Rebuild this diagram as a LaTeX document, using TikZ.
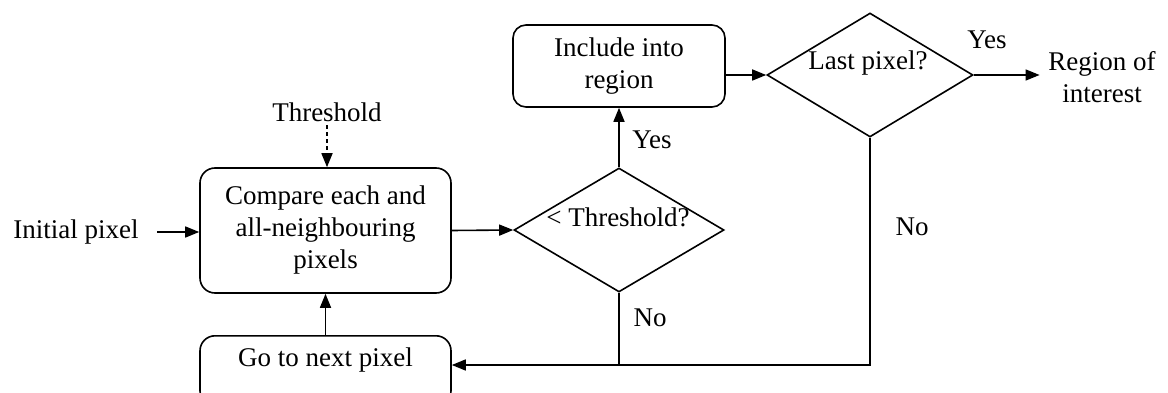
\documentclass[tikz,border=0pt]{standalone}
\usepackage{fontspec}
\setmainfont{Liberation Serif}
\usetikzlibrary{shapes.geometric,arrows.meta}
\begin{document}
\begin{tikzpicture}[x=1pt,y=-1pt,
  font=\fontsize{27}{32}\selectfont,
  line width=1.6pt,
  arr/.style={-{Triangle[length=14pt,width=11pt]}},
  procbox/.style={draw, rounded corners=15pt, inner sep=0pt, align=center, minimum width=251pt},
  decision/.style={draw, diamond, inner sep=0pt, minimum height=124pt},
  lbl/.style={inner sep=0pt, align=center}]
  \clip (0,0) rectangle (1168,393);

  % process boxes
  \node[procbox, minimum height=125pt] (cmp) at (325.5,230.5)
    {Compare each and\\all-neighbouring\\pixels};
  \node[procbox, anchor=north, minimum height=70pt, text height=27pt, text depth=35pt]
    (go) at (325.5,335) {Go to next pixel};
  \node[procbox, minimum width=212pt, minimum height=82pt, rounded corners=13pt]
    (inc) at (619,66) {Include into\\region};

  % decisions
  \node[decision, minimum width=210pt] (d1) at (619,230) {};
  \node[lbl] (d1t) at (618,217) {< Threshold?};
  \node[decision, minimum width=206pt] (d2) at (870,75) {};
  \node[lbl] (d2t) at (868,63) {Last pixel?};

  % inputs and outputs
  \node[lbl, inner xsep=4pt] (init) at (76,232) {Initial pixel};
  \node[lbl, inner sep=3pt] (thr) at (327,112) {Threshold};
  \node[lbl, inner sep=4pt] (roi) at (1102,77) {Region of\\interest};

  % branch labels
  \node[lbl] (yes1) at (652,140) {Yes};
  \node[lbl] (no1) at (650,318) {No};
  \node[lbl] (yes2) at (987,40) {Yes};
  \node[lbl] (no2) at (912,227) {No};

  \coordinate (j1) at (619,365);

  % connectors
  \draw[arr, shorten <=14pt] (init.east) -- (init.east -| cmp.west);
  \draw[arr, dashed, dash pattern=on 4pt off 3pt] (thr.south) -- (thr.south |- cmp.north);
  \draw[arr] (go.north) -- (cmp.south);
  \draw[arr] (cmp.east) -- (d1.west);
  \draw[arr] (d1.north) -- (inc.south);
  \draw[arr] (inc.east |- d2.west) -- (d2.west);
  \draw[arr, shorten >=4pt] (d2.east) -- (d2.east -| roi.west);
  \draw (d1.south) -- (j1);
  \draw (d2.south) -- (d2.south |- j1) -- (j1);
  \draw[arr] (j1) -- (j1 -| go.east);
\end{tikzpicture}
\end{document}
